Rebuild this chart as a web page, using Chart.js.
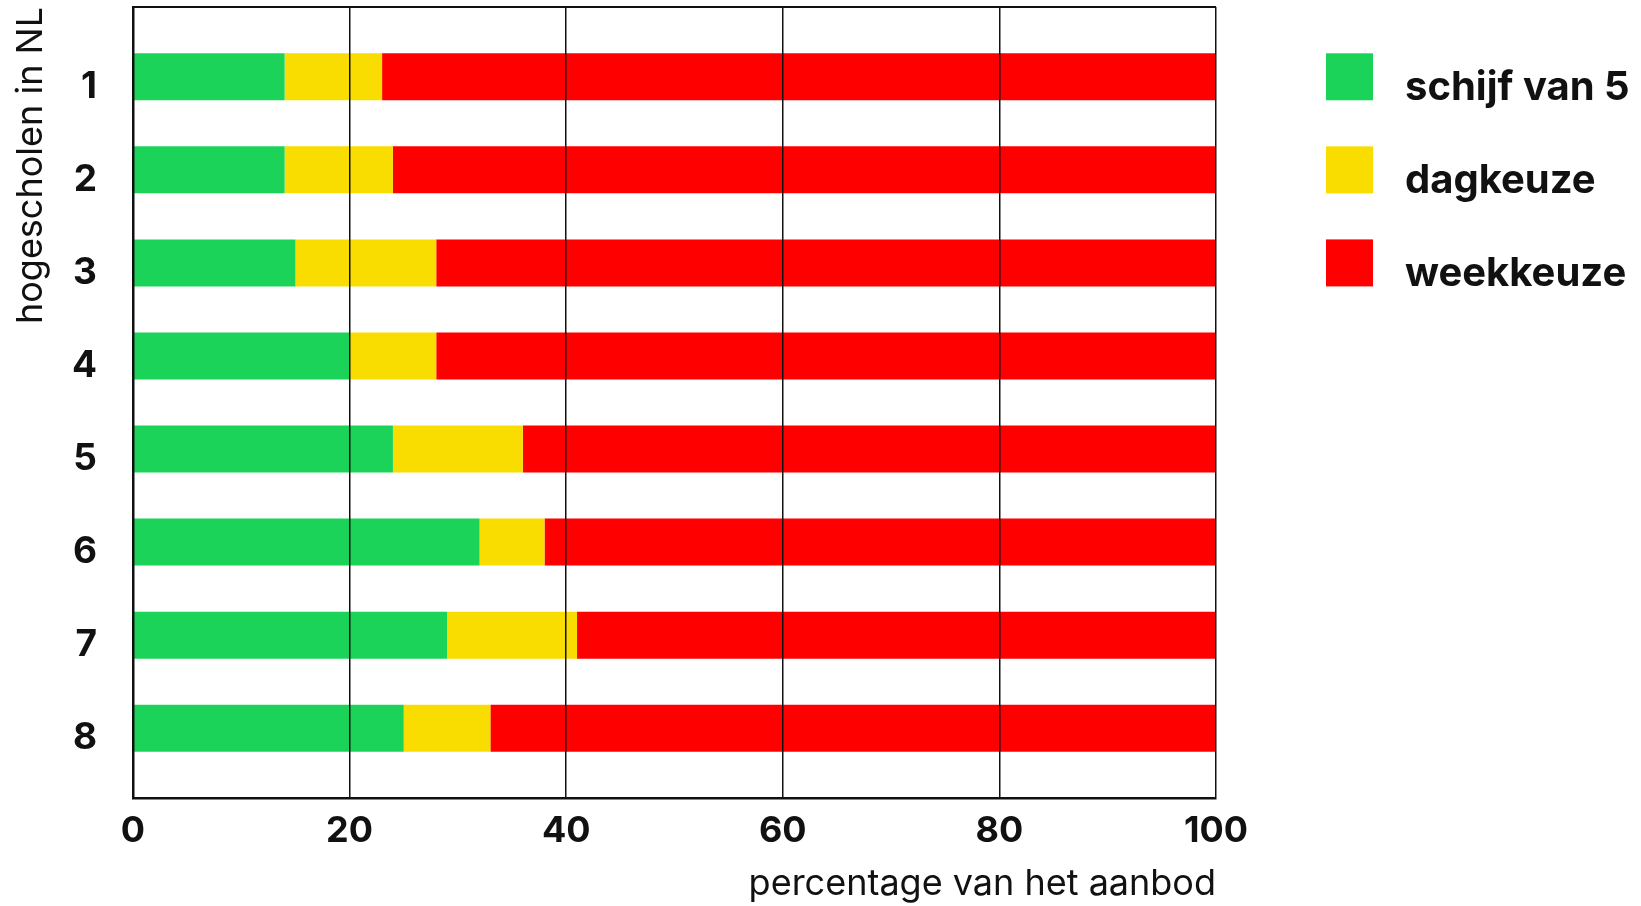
<!DOCTYPE html>
<html>
<head>
<meta charset="utf-8">
<script src="https://cdn.jsdelivr.net/npm/chart.js@4/dist/chart.umd.min.js"></script>
<style>
  html, body { margin: 0; padding: 0; background: #ffffff; }
  #wrap { width: 1641px; height: 906px; }
</style>
</head>
<body>
<div id="wrap"><canvas id="chart" width="1641" height="906"></canvas></div>
<script>
// Hogescholen (1-8) and the share of their food offer per category, in percent
const categories = ['1', '2', '3', '4', '5', '6', '7', '8'];
const schijfVan5 = [14, 14, 15, 20, 24, 32, 29, 25];
const dagkeuze   = [9, 10, 13, 8, 12, 6, 12, 8];
const weekkeuze  = [77, 76, 72, 72, 64, 62, 59, 67];
const xTicks = [0, 20, 40, 60, 80, 100];

const seriesNames = ['schijf van 5', 'dagkeuze', 'weekkeuze'];
const seriesColors = ['#1cd35a', '#fadd00', '#ff0000'];

const FONT = 'Inter, Lato, sans-serif';
const INK = '#111111';

const TITLE_AXIS_WIDTH = 44;

// Legend drawn next to the first rows of the chart, one row per series
const sideLegend = {
  id: 'sideLegend',
  afterDraw(chart) {
    const { ctx, chartArea } = chart;
    const yScale = chart.scales.y;
    ctx.save();
    chart.data.datasets.forEach((ds, i) => {
      const cy = yScale.getPixelForValue(i + 1);
      const size = 47;
      const bx = chartArea.right + 110;
      ctx.fillStyle = ds.backgroundColor;
      ctx.fillRect(bx, cy - size / 2, size, size);
      ctx.fillStyle = INK;
      ctx.font = 'bold 40px ' + FONT;
      ctx.textBaseline = 'alphabetic';
      ctx.textAlign = 'left';
      ctx.fillText(ds.label, bx + 79, cy + 23);
    });
    ctx.restore();
  }
};

// Top edge of the plot frame
const frame = {
  id: 'frame',
  afterDatasetsDraw(chart) {
    const { ctx, chartArea } = chart;
    ctx.save();
    ctx.strokeStyle = INK;
    ctx.lineWidth = 2;
    ctx.beginPath();
    ctx.moveTo(chartArea.left, chartArea.top);
    ctx.lineTo(chartArea.right, chartArea.top);
    ctx.stroke();
    ctx.restore();
  }
};

new Chart(document.getElementById('chart'), {
  type: 'bar',
  data: {
    labels: categories,
    datasets: [schijfVan5, dagkeuze, weekkeuze].map((values, i) => ({
      label: seriesNames[i],
      data: values,
      backgroundColor: seriesColors[i],
      borderWidth: 0,
      categoryPercentage: 1,
      barPercentage: 0.505
    }))
  },
  options: {
    indexAxis: 'y',
    responsive: false,
    animation: false,
    layout: { padding: { top: 7, right: 425, left: 0, bottom: 0 } },
    plugins: {
      legend: { display: false },
      tooltip: { enabled: false }
    },
    scales: {
      x: {
        type: 'linear',
        stacked: true,
        min: 0,
        max: 100,
        afterFit(scale) { scale.height = 108; },
        afterBuildTicks(scale) { scale.ticks = xTicks.map(v => ({ value: v })); },
        grid: { color: INK, lineWidth: 1.5, drawTicks: false, z: 1 },
        border: { display: true, color: INK, width: 2.5, z: 1 },
        ticks: {
          color: INK,
          padding: 12,
          font: { family: FONT, size: 36, weight: 'bold' }
        },
        title: {
          display: true,
          text: 'percentage van het aanbod',
          align: 'end',
          color: INK,
          padding: { top: 0, bottom: 0 },
          font: { family: FONT, size: 36, weight: 'normal' }
        }
      },
      y: {
        type: 'linear',
        stacked: true,
        reverse: true,
        offset: false,
        min: 0.25,
        max: 8.75,
        afterFit(scale) {
          scale.width = 133 - TITLE_AXIS_WIDTH;
          scale.paddingTop = 0;
          scale.paddingBottom = 0;
        },
        afterBuildTicks(scale) { scale.ticks = categories.map(c => ({ value: Number(c) })); },
        grid: { display: false, drawTicks: false, offset: false },
        border: { display: true, color: INK, width: 2.5, z: 1 },
        ticks: {
          color: INK,
          padding: 36,
          labelOffset: 10,
          font: { family: FONT, size: 37, weight: 'bold' },
          callback: (v) => categories[v - 1]
        }
      },
      yTitle: {
        type: 'linear',
        position: 'left',
        weight: 1,
        afterFit(scale) {
          scale.width = TITLE_AXIS_WIDTH;
          scale.paddingTop = 0;
          scale.paddingBottom = 0;
        },
        grid: { display: false, drawTicks: false },
        border: { display: false },
        ticks: { display: false },
        title: {
          display: true,
          text: 'hogescholen in NL',
          align: 'end',
          color: INK,
          padding: { top: 10, bottom: 0 },
          font: { family: FONT, size: 36, weight: 'normal' }
        }
      }
    }
  },
  plugins: [sideLegend, frame]
});
</script>
</body>
</html>
